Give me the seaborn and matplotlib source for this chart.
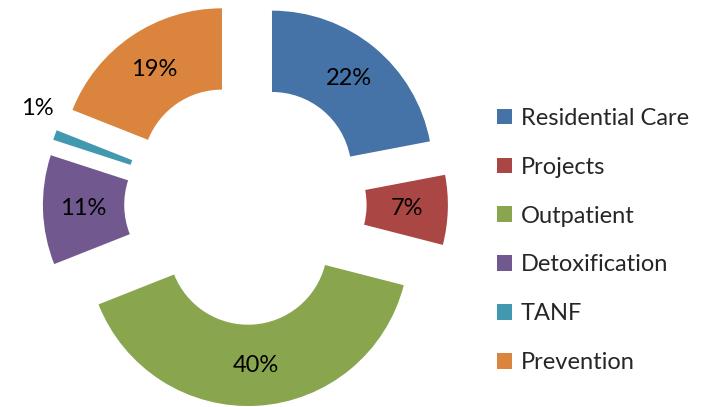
import matplotlib
matplotlib.use("Agg")
import matplotlib.pyplot as plt
import seaborn as sns
import numpy as np
from matplotlib.patches import Patch

categories = ["Residential Care", "Projects", "Outpatient", "Detoxification", "TANF", "Prevention"]
values = [22, 7, 40, 11, 1, 19]
labels = ["22%", "7%", "40%", "11%", "1%", "19%"]
colors = ["#4572A7", "#AA4643", "#89A54E", "#71588F", "#4198AF", "#DB843D"]

sns.set_theme(style="white")
plt.rcParams["font.family"] = ["Lato", "DejaVu Sans"]

W, H = 709, 407
fig = plt.figure(figsize=(W / 100, H / 100), dpi=100)
ax = fig.add_axes([0, 0, 1, 1])

cx, cy = 245.4, H - 203.6
R = 160.8
r_in = 79.5
d = 41.7

wedges, texts, autotexts = ax.pie(
    values,
    colors=colors,
    startangle=90,
    counterclock=False,
    explode=[d] * len(values),
    radius=R,
    center=(cx, cy),
    wedgeprops=dict(width=R - r_in, linewidth=0),
    autopct=lambda p: "",
    pctdistance=((R + r_in) / 2) / R,
)
for t, lab in zip(autotexts, labels):
    t.set_text(lab)
    t.set_fontsize(17)
    t.set_color("#000000")

# outside label for the small TANF slice
ang = np.deg2rad(155.6)
autotexts[4].set_position((cx + 229.0 * np.cos(ang), cy + 229.0 * np.sin(ang)))

ax.set_xlim(0, W)
ax.set_ylim(0, H)
ax.set_aspect("equal")
ax.axis("off")

handles = [Patch(facecolor=c, edgecolor="none") for c in colors]
leg = fig.legend(handles, categories, loc="center left", bbox_to_anchor=(497 / W, 0.5 - (240.5 - 203.5) / H),
                 frameon=False, fontsize=17, handlelength=0.65, handleheight=0.65,
                 handletextpad=0.35, labelspacing=1.18, borderaxespad=0, borderpad=0)

fig.savefig("out.png", dpi=100)
